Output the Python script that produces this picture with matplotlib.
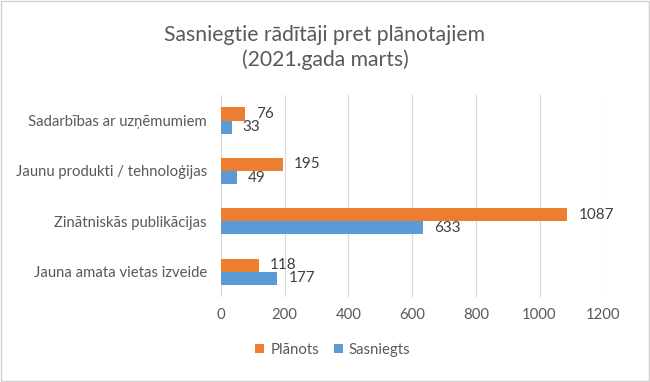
import numpy as np
import matplotlib
matplotlib.use('Agg')
from matplotlib import pyplot as plt
from matplotlib.patches import Rectangle

plt.rcParams['font.family'] = ['Lato', 'DejaVu Sans']

categories = ['Jauna amata vietas izveide', 'Zinātniskās publikācijas',
              'Jaunu produkti / tehnoloģijas', 'Sadarbības ar uzņēmumiem']
planots = [118, 1087, 195, 76]
sasniegts = [177, 633, 49, 33]
x_ticks = [0, 200, 400, 600, 800, 1000, 1200]

orange = '#ED7D31'
blue = '#5B9BD5'
text_gray = '#595959'

fig = plt.figure(figsize=(6.5, 3.82), dpi=100)
fig.patches.append(Rectangle((0.002, 0.003), 0.996, 0.994, transform=fig.transFigure,
                             fill=False, edgecolor='#D0D0D0', linewidth=1))
ax = fig.add_axes([0.34, 0.2225, 0.588, 0.528])

y = np.arange(len(categories))
h = 0.26
b1 = ax.barh(y + h / 2, planots, height=h, color=orange, label='Plānots', zorder=3)
b2 = ax.barh(y - h / 2, sasniegts, height=h, color=blue, label='Sasniegts', zorder=3)

for bars in (b1, b2):
    for bar in bars:
        w = bar.get_width()
        ax.annotate(str(int(w)), (w, bar.get_y() + bar.get_height() / 2),
                    xytext=(8, 0), textcoords='offset points',
                    va='center', ha='left', fontsize=11, color='#404040')

ax.set_xlim(0, 1200)
ax.set_ylim(-0.5, len(categories) - 0.5)
ax.set_xticks(x_ticks)
ax.set_xticklabels([str(t) for t in x_ticks])
ax.set_yticks(y)
ax.set_yticklabels(categories)
ax.tick_params(axis='both', length=0, labelsize=10.7, colors=text_gray)
ax.tick_params(axis='x', pad=8)
ax.tick_params(axis='y', pad=10)
ax.grid(axis='x', color='#D9D9D9', linewidth=0.8, zorder=0)
for s in ax.spines.values():
    s.set_visible(False)

fig.text(0.5, 0.875, 'Sasniegtie rādītāji pret plānotajiem\n(2021.gada marts)',
         ha='center', va='center', fontsize=15.2, color=text_gray, linespacing=1.25)

fig.legend(handles=[b1, b2], loc='center', bbox_to_anchor=(0.512, 0.085), ncol=2,
           frameon=False, fontsize=10.7, labelcolor=text_gray, handlelength=0.6,
           handleheight=0.6, handletextpad=0.4, columnspacing=1.0)

fig.savefig('out.png', dpi=100)
